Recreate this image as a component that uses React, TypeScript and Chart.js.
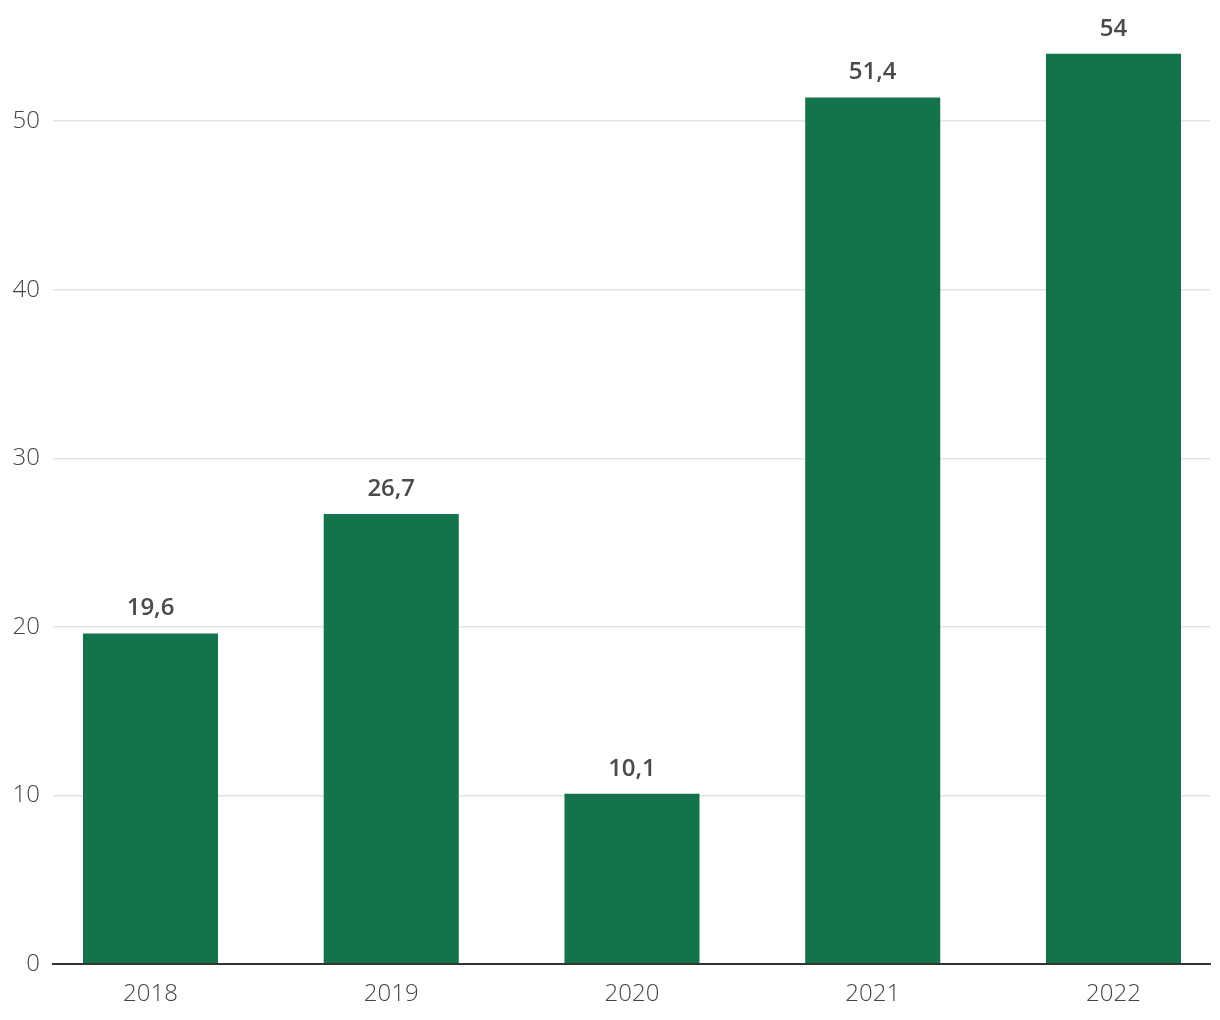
import React, { useEffect, useRef } from "react";
import { Chart, registerables } from "chart.js";

Chart.register(...registerables);

const categories = ["2018", "2019", "2020", "2021", "2022"];
const values = [19.6, 26.7, 10.1, 51.4, 54];
const yTicks = [0, 10, 20, 30, 40, 50];

const FONT = "'Open Sans', 'Noto Sans', sans-serif";

const valueLabels = {
  id: "valueLabels",
  afterDatasetsDraw(chart: any) {
    const ctx = chart.ctx;
    const meta = chart.getDatasetMeta(0);
    ctx.save();
    ctx.font = `600 24px ${FONT}`;
    ctx.fillStyle = "#4a4a48";
    ctx.textAlign = "center";
    ctx.textBaseline = "middle";
    meta.data.forEach((el: any, i: number) => {
      const txt = String(values[i]).replace(".", ",");
      ctx.fillText(txt, el.x, el.y - 25);
    });
    ctx.restore();
  },
};

export default function App() {
  const ref = useRef<HTMLCanvasElement>(null);
  useEffect(() => {
    if (!ref.current) return;
    const chart = new Chart(ref.current, {
      type: "bar",
      data: {
        datasets: [
          {
            data: values.map((v, i) => ({ x: i, y: v })),
            backgroundColor: "#14734b",
            barPercentage: 0.561,
            categoryPercentage: 1,
          },
        ],
      },
      options: {
        responsive: false,
        animation: false,
        layout: { padding: { top: 20, right: 10, left: 0, bottom: 0 } },
        plugins: { legend: { display: false }, tooltip: { enabled: false } },
        scales: {
          x: {
            type: "linear",
            offset: false,
            min: -0.405,
            max: 4.401,
            afterBuildTicks: (s: any) => {
              s.ticks = categories.map((_, i) => ({ value: i }));
            },
            afterFit: (s: any) => {
              s.height = 56;
              s.paddingLeft = 0;
              s.paddingRight = 0;
            },
            grid: { display: false, drawTicks: false, offset: false },
            border: { display: true, color: "#333333", width: 2, z: 1 },
            ticks: {
              padding: 16,
              color: "#444444",
              font: { family: FONT, size: 24, weight: "300" as any },
              callback: (v: any) => categories[v] ?? "",
            },
          },
          y: {
            min: 0,
            max: 56,
            afterBuildTicks: (s: any) => {
              s.ticks = yTicks.map((v) => ({ value: v }));
            },
            afterFit: (s: any) => {
              s.width = 53;
              s.paddingTop = 0;
              s.paddingBottom = 0;
            },
            grid: { color: "#e3e3e3", lineWidth: 1.5, drawTicks: false },
            border: { display: false },
            ticks: {
              padding: 13,
              color: "#444444",
              font: { family: FONT, size: 24, weight: "300" as any },
            },
          },
        },
      },
      plugins: [valueLabels],
    });
    return () => chart.destroy();
  }, []);
  return (
    <div style={{ position: "absolute", left: 0, top: 0, width: 1220, height: 1020, background: "#fff" }}>
      <canvas ref={ref} width={1220} height={1020} style={{ display: "block" }} />
    </div>
  );
}
